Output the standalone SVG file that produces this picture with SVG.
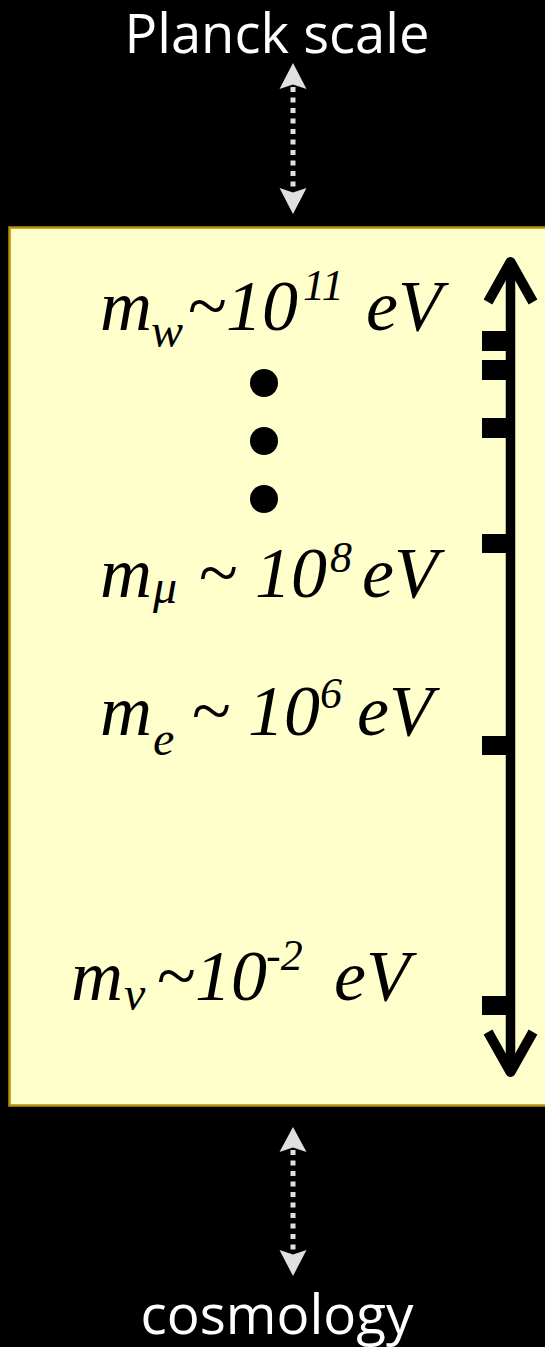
<svg xmlns="http://www.w3.org/2000/svg" width="545" height="1347" viewBox="0 0 545 1347">
<style>
.lbl{font-family:"Open Sans","Liberation Sans",sans-serif;fill:#ffffff;}
.m{font-family:"Liberation Serif","Times New Roman",serif;font-style:italic;fill:#000;}
.big{font-size:72px;}
.sub{font-size:48px;}
.sup{font-size:44px;}
.dash{stroke:#e0e0e0;stroke-width:5;stroke-dasharray:5 5.5;fill:none;}
.head{fill:#e0e0e0;}
.tick{fill:#000;}
</style>
<rect x="0" y="0" width="545" height="1347" fill="#000"/>
<g id="planck">
<text class="lbl" x="277" y="53" font-size="54" text-anchor="middle" textLength="305" lengthAdjust="spacingAndGlyphs">Planck scale</text>
</g>
<g id="cosmology">
<text class="lbl" x="277" y="1334" font-size="54" text-anchor="middle" textLength="273" lengthAdjust="spacingAndGlyphs">cosmology</text>
</g>
<g id="box">
<rect x="9.5" y="227.5" width="560" height="878" fill="#ffffcc" stroke="#b8900a" stroke-width="2.5"/>
<text class="m big" x="100" y="330">m</text>
<text class="m sub" x="151" y="347">w</text>
<text class="m big" x="187" y="330">~10</text>
<text class="m sup" x="303" y="300">11</text>
<text class="m big" x="366" y="330">eV</text>

<text class="m big" x="100" y="597">m</text>
<text class="m sub" x="153" y="603">μ</text>
<text class="m big" x="198" y="597">~ 10</text>
<text class="m sup" x="330" y="572">8</text>
<text class="m big" x="362" y="597">eV</text>

<text class="m big" x="100" y="735">m</text>
<text class="m sub" x="153" y="755">e</text>
<text class="m big" x="191" y="735">~ 10</text>
<text class="m sup" x="320" y="708">6</text>
<text class="m big" x="357" y="735">eV</text>

<text class="m big" x="71" y="1000">m</text>
<text class="m sub" x="124" y="1010">ν</text>
<text class="m big" x="156" y="1000">~10</text>
<text class="m sup" x="266" y="970">-2</text>
<text class="m big" x="334" y="1000">eV</text>

<circle cx="264" cy="383" r="14"/>
<circle cx="264" cy="441" r="14"/>
<circle cx="264" cy="499" r="14"/>
</g>
<g id="scale">
<line x1="510.5" y1="262" x2="510.5" y2="1072" stroke="#000" stroke-width="9.5"/>
<polyline points="488,302 510.5,262 533,302" fill="none" stroke="#000" stroke-width="10" stroke-linejoin="round"/>
<polyline points="488,1032 510.5,1072 533,1032" fill="none" stroke="#000" stroke-width="10" stroke-linejoin="round"/>
<rect class="tick" x="482" y="331" width="26" height="20"/>
<rect class="tick" x="482" y="360" width="26" height="20"/>
<rect class="tick" x="482" y="418" width="26" height="20"/>
<rect class="tick" x="482" y="534" width="26" height="19"/>
<rect class="tick" x="482" y="736" width="26" height="19"/>
<rect class="tick" x="482" y="996" width="26" height="19"/>
</g>
<g id="connectors">
<line class="dash" x1="293" y1="87" x2="293" y2="190"/>
<polygon class="head" points="293,63 306.5,89 293,84.5 279.5,89"/>
<polygon class="head" points="293,214 306.5,188 293,192.5 279.5,188"/>
<line class="dash" x1="293" y1="1150" x2="293" y2="1252"/>
<polygon class="head" points="293,1127 306.5,1152 293,1147.5 279.5,1152"/>
<polygon class="head" points="293,1276 306.5,1250 293,1254.5 279.5,1250"/>
</g>
</svg>
